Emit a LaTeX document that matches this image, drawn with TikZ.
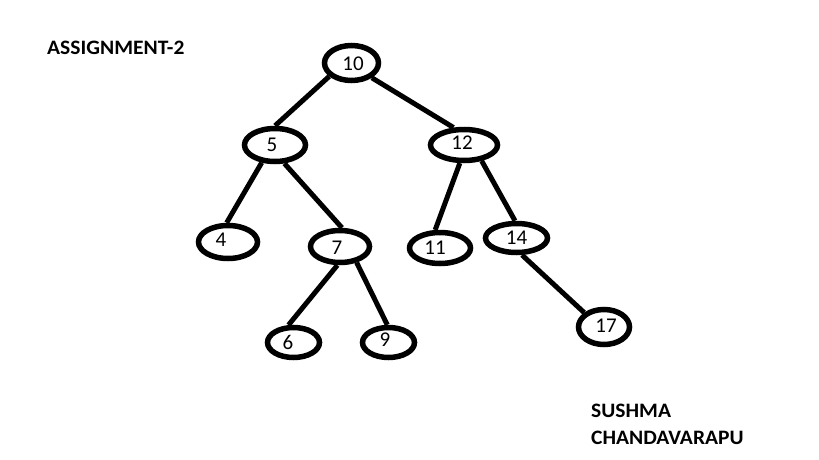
\documentclass[tikz,border=0pt]{standalone}
\usepackage{fontspec}
\setmainfont{Carlito}
\usetikzlibrary{shapes.geometric}
\begin{document}
\begin{tikzpicture}[x=1pt,y=-1pt,
  tn/.style={ellipse, draw, line width=5.5pt, inner sep=0pt},
  num/.style={font=\fontsize{21}{22}\selectfont, inner sep=0pt},
  edge/.style={line width=5pt},
  ttl/.style={font=\bfseries\fontsize{20.5}{22}\selectfont, inner sep=0pt, anchor=west}]
\useasboundingbox (0,0) rectangle (819,460);
\fill[white] (0,0) rectangle (819,460);

\node[ttl] (title) at (47,47.5) {\scalebox{1.05}[1]{ASSIGNMENT-2}};
\node[ttl] (name1) at (591,411) {\scalebox{1.05}[1]{SUSHMA}};
\node[ttl] (name2) at (591,438) {\scalebox{1.05}[1]{CHANDAVARAPU}};

\node[tn, minimum width=54pt, minimum height=35pt, label={[num,xshift=1.5pt,yshift=-1pt]center:10}] (n10) at (351.5,63) {};
\node[tn, minimum width=61pt, minimum height=33pt, label={[num,xshift=-3pt]center:5}] (n5) at (275,145) {};
\node[tn, minimum width=67pt, minimum height=31pt, label={[num,xshift=-2pt,yshift=2pt]center:12}] (n12) at (464,145) {};
\node[tn, minimum width=59pt, minimum height=33pt, label={[num,xshift=-7pt,yshift=2pt]center:4}] (n4) at (228,242) {};
\node[tn, minimum width=59pt, minimum height=32pt, label={[num,xshift=-3pt,yshift=-1.5pt]center:7}] (n7) at (340,246.5) {};
\node[tn, minimum width=61pt, minimum height=31pt, label={[num,xshift=-5pt]center:11}] (n11) at (440,248) {};
\node[tn, minimum width=62pt, minimum height=29pt, label={[num]center:14}] (n14) at (516.5,238) {};
\node[tn, minimum width=52pt, minimum height=30pt, label={[num,xshift=-5.5pt]center:6}] (n6) at (293.5,342.5) {};
\node[tn, minimum width=52pt, minimum height=30pt, label={[num,xshift=-3.5pt,yshift=2.5pt]center:9}] (n9) at (388.5,342.5) {};
\node[tn, minimum width=51pt, minimum height=35pt, label={[num,xshift=2pt,yshift=1pt]center:17}] (n17) at (604,327) {};

\draw[edge] (n10.211) -- (n5.90);
\draw[edge] (n10.324) -- (n12.121);
\draw[edge] (n5.233) -- (n4.94);
\draw[edge] (n5.297) -- (n7.84);
\draw[edge] (n12.257) -- (n11.105);
\draw[edge] (n12.318) -- (n14.95);
\draw[edge] (n14.288) -- (n17.144);
\draw[edge] (n7.262) -- (n6.106);
\draw[edge] (n7.316) -- (n9.94);
\end{tikzpicture}
\end{document}
